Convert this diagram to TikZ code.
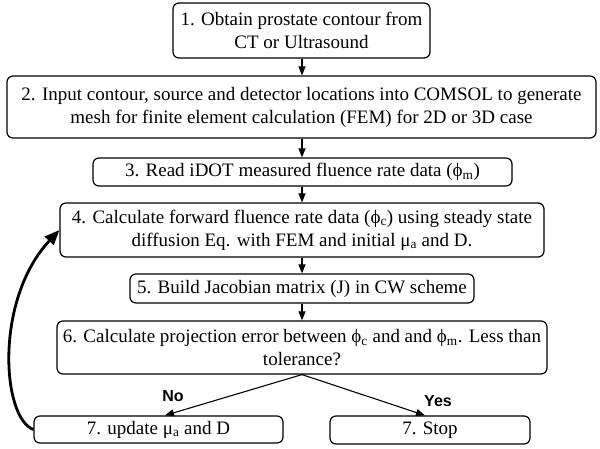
\documentclass[tikz,border=0pt]{standalone}
\usepackage{fontspec}
\setmainfont{Liberation Serif}
\newfontfamily\tnr{Liberation Serif}
\newfontfamily\labfont{Liberation Sans}
\usetikzlibrary{arrows.meta,calc}
\begin{document}
\begin{tikzpicture}[x=1pt,y=-1pt,
  box/.style={draw, line width=1.2pt, rounded corners=6pt, inner sep=0pt, align=center,
    font=\tnr\fontsize{19}{23}\selectfont},
  arr/.style={line width=1.1pt, -{Triangle[length=9pt,width=7pt]}},
  looparr/.style={line width=2.8pt, -{Triangle[length=15pt,width=12pt]}},
  lab/.style={font=\labfont\bfseries\fontsize{16}{18}\selectfont}]
\useasboundingbox (0,0) rectangle (600,449);
\node[box, minimum width=257pt, minimum height=55pt] (b1) at (301.5,30.5)
  {1. Obtain prostate contour from\\CT or Ultrasound};
\node[box, minimum width=589pt, minimum height=62pt] (b2) at (301.5,107)
  {2. Input contour, source and detector locations into COMSOL to generate\\mesh for finite element calculation (FEM) for 2D or 3D case};
\node[box, minimum width=419pt, minimum height=28pt] (b3) at (302.5,172)
  {3. Read iDOT measured fluence rate data (ϕ\textsubscript{m})};
\node[box, minimum width=484pt, minimum height=54pt] (b4) at (302,230)
  {4. Calculate forward fluence rate data (ϕ\textsubscript{c}) using steady state\\diffusion Eq. with FEM and initial μ\textsubscript{a} and D.};
\node[box, minimum width=344pt, minimum height=29pt] (b5) at (302,288.5)
  {5. Build Jacobian matrix (J) in CW scheme};
\node[box, minimum width=490pt, minimum height=53pt] (b6) at (302,347.5)
  {6. Calculate projection error between ϕ\textsubscript{c} and and ϕ\textsubscript{m}. Less than\\tolerance?};
\node[box, minimum width=249pt, minimum height=27pt] (b7a) at (158.5,429.5)
  {7. update μ\textsubscript{a} and D};
\node[box, minimum width=200pt, minimum height=28pt] (b7b) at (430,430)
  {7. Stop};
\draw[arr] (302,0 |- b1.south) -- (302,0 |- b2.north);
\draw[arr] (302,0 |- b2.south) -- (302,0 |- b3.north);
\draw[arr] (302,0 |- b3.south) -- (302,0 |- b4.north);
\draw[arr] (302,0 |- b4.south) -- (302,0 |- b5.north);
\draw[arr] (302,0 |- b5.south) -- (302,0 |- b6.north);
\draw[arr] (b6.south) -- ($(b7a.north west)!0.526!(b7a.north east)$);
\draw[arr] (b6.south) -- ($(b7b.north west)!0.475!(b7b.north east)$);
\node[lab] (no) at (173,396) {No};
\node[lab] (yes) at (438,401) {Yes};
\draw[looparr] (b7a.west) .. controls (2,418) and (-6,300) .. (b4.west);
\end{tikzpicture}
\end{document}
